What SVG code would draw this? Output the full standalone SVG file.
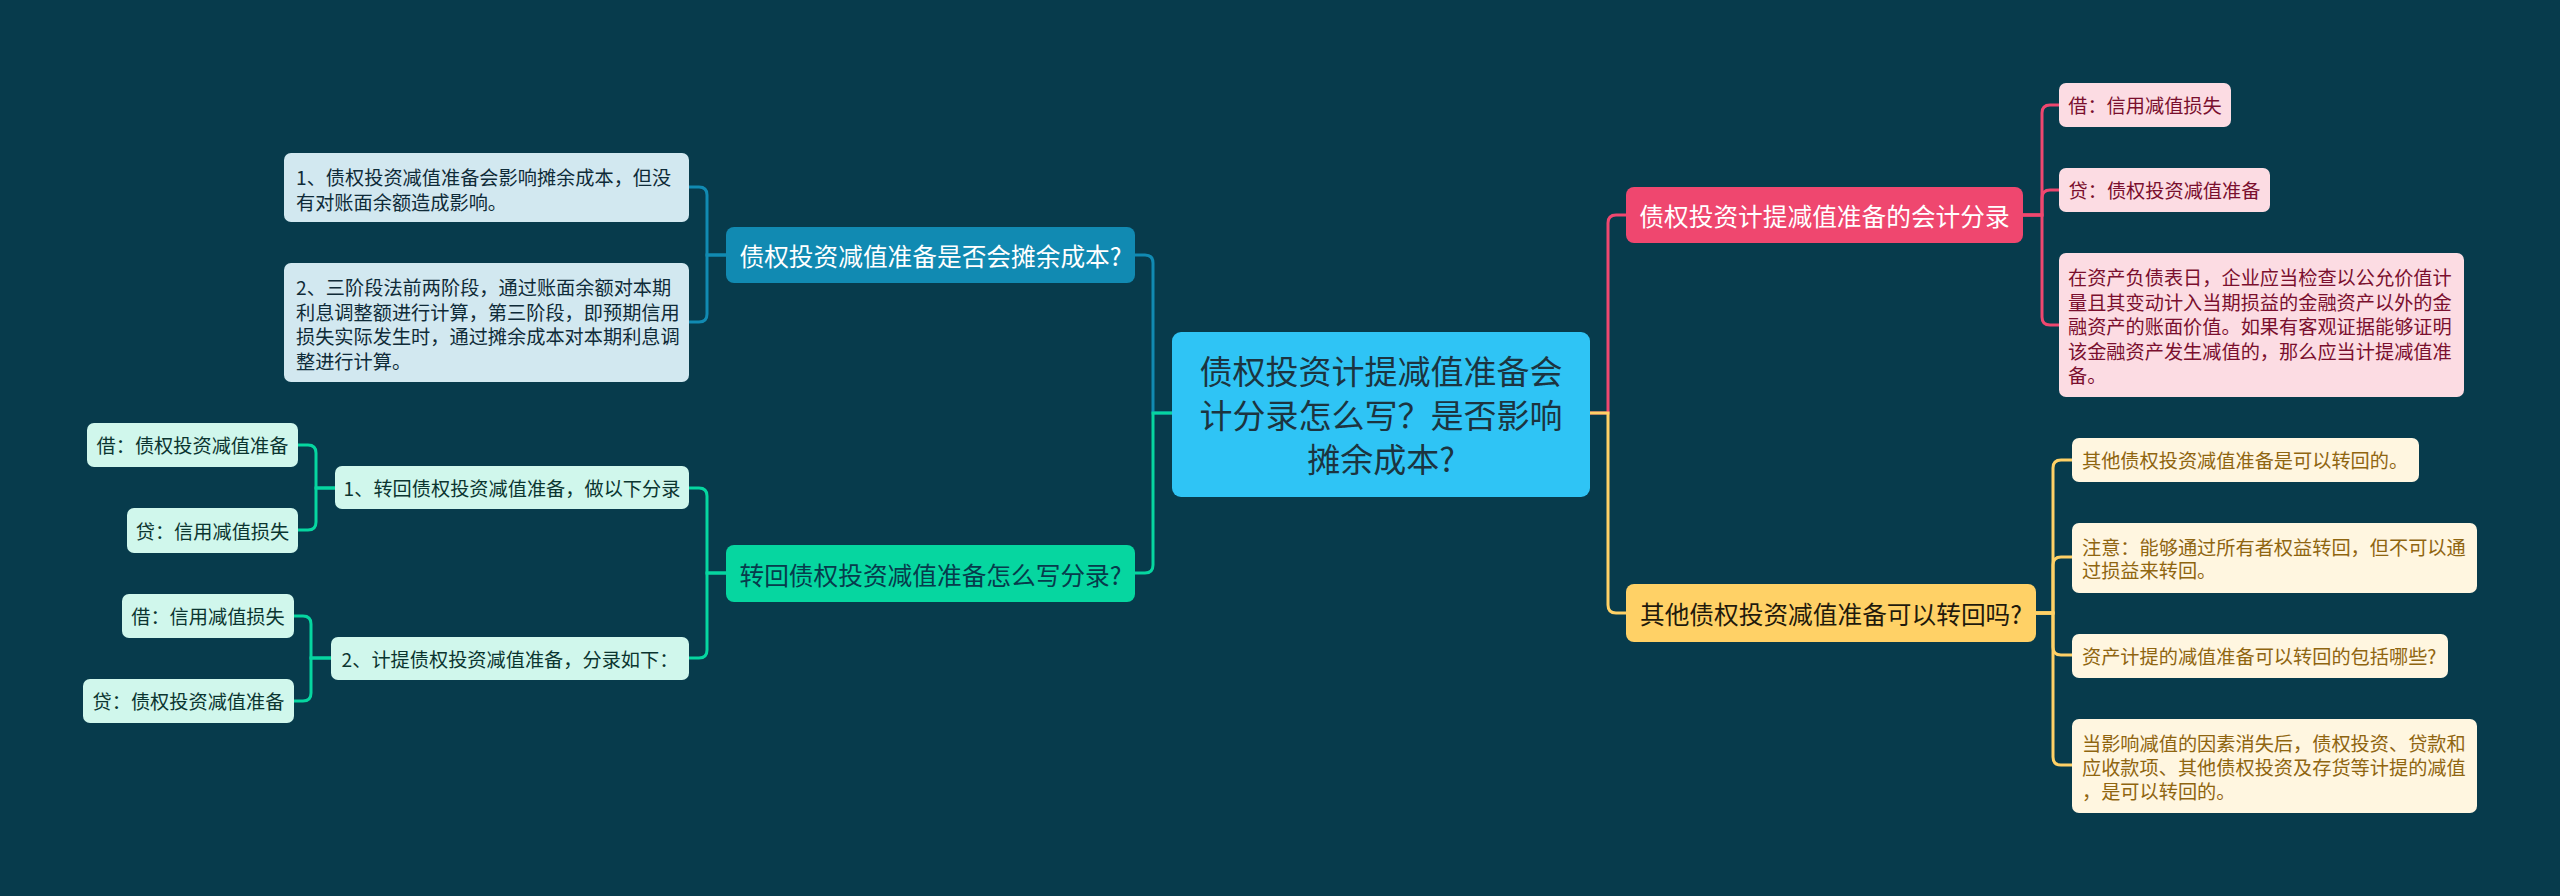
<svg xmlns="http://www.w3.org/2000/svg" width="2560" height="896" viewBox="0 0 2560 896">
<style>
text{font-family:"Noto Sans CJK SC","Noto Sans",sans-serif;dominant-baseline:central}
.lk{fill:none;stroke-width:3}
.root{fill:#2FC4F5}
.rt{font-size:33px;fill:#1c3440;text-anchor:middle}
.bt{font-size:24.7px;text-anchor:middle}
.lf{font-size:19.2px}
.c{text-anchor:middle}
.bB{fill:#118AB2}.lB{fill:#D2E8F0}.tB{fill:#0f2b38}
.bG{fill:#06D6A0}.lG{fill:#D0F7EC}.tG{fill:#0b3530}
.bR{fill:#EF476F}.lR{fill:#FCDCE3}.tR{fill:#7a0f2e}
.bY{fill:#FFD166}.lY{fill:#FFF6E0}.tY{fill:#8f6510}
</style>
<rect width="2560" height="896" fill="#073B4C"/>
<g id="connectors">
<g stroke="#118AB2" class="lk">
<path class="lk" d="M1172,413 H1153 V263 Q1153,255 1145,255 H1135"/>
<path class="lk" d="M726,255 H707 V195 Q707,187 699,187 H689"/>
<path class="lk" d="M726,255 H707 V314 Q707,322 699,322 H689"/>
</g>
<g stroke="#06D6A0" class="lk">
<path class="lk" d="M1172,413 H1153 V565 Q1153,573 1145,573 H1135"/>
<path class="lk" d="M726,573 H707 V496 Q707,488 699,488 H689"/>
<path class="lk" d="M726,573 H707 V650 Q707,658 699,658 H689"/>
<path class="lk" d="M335,488 H316 V453 Q316,445 308,445 H298"/>
<path class="lk" d="M335,488 H316 V522 Q316,530 308,530 H298"/>
<path class="lk" d="M331,658 H311 V624 Q311,616 303,616 H294"/>
<path class="lk" d="M331,658 H311 V693 Q311,701 303,701 H294"/>
</g>
<g stroke="#EF476F" class="lk">
<path class="lk" d="M1590,413 H1608 V223 Q1608,215 1616,215 H1626"/>
<path class="lk" d="M2023,215 H2042 V113 Q2042,105 2050,105 H2059"/>
<path class="lk" d="M2023,215 H2042 V198 Q2042,190 2050,190 H2059"/>
<path class="lk" d="M2023,215 H2042 V317 Q2042,325 2050,325 H2059"/>
</g>
<g stroke="#FFD166" class="lk">
<path class="lk" d="M1590,413 H1608 V605 Q1608,613 1616,613 H1626"/>
<path class="lk" d="M2036,613 H2053 V468 Q2053,460 2061,460 H2072"/>
<path class="lk" d="M2036,613 H2053 V565 Q2053,557 2061,557 H2072"/>
<path class="lk" d="M2036,613 H2053 V647 Q2053,655 2061,655 H2072"/>
<path class="lk" d="M2036,613 H2053 V757 Q2053,765 2061,765 H2072"/>
</g>
</g>
<g id="root">
<rect class="root" x="1172" y="332" width="418" height="165" rx="9"/>
<text class="rt" x="1381" y="370">债权投资计提减值准备会</text>
<text class="rt" x="1381" y="414">计分录怎么写？是否影响</text>
<text class="rt" x="1381" y="458">摊余成本?</text>
</g>
<g id="b1">
<rect class="bB" x="726" y="227" width="409" height="56" rx="8"/>
<text class="bt" x="930.5" y="255" fill="#ffffff">债权投资减值准备是否会摊余成本?</text>
</g>
<g id="a1">
<rect class="lB" x="284" y="153" width="405" height="69" rx="7"/>
<text class="lf tB" x="296" y="177">1、债权投资减值准备会影响摊余成本，但没</text>
<text class="lf tB" x="296" y="201.5">有对账面余额造成影响。</text>
</g>
<g id="a2">
<rect class="lB" x="284" y="263" width="405" height="119" rx="7"/>
<text class="lf tB" x="296" y="287">2、三阶段法前两阶段，通过账面余额对本期</text>
<text class="lf tB" x="296" y="311.5">利息调整额进行计算，第三阶段，即预期信用</text>
<text class="lf tB" x="296" y="336">损失实际发生时，通过摊余成本对本期利息调</text>
<text class="lf tB" x="296" y="360.5">整进行计算。</text>
</g>
<g id="b2">
<rect class="bG" x="726" y="545" width="409" height="57" rx="8"/>
<text class="bt" x="930.5" y="573.5" fill="#073B4C">转回债权投资减值准备怎么写分录?</text>
</g>
<g id="c1">
<rect class="lG" x="335" y="466" width="354" height="43" rx="7"/>
<text class="lf tG c" x="512" y="487.5">1、转回债权投资减值准备，做以下分录</text>
</g>
<g id="c1a">
<rect class="lG" x="87" y="423" width="211" height="44" rx="7"/>
<text class="lf tG c" x="192.5" y="445">借：债权投资减值准备</text>
</g>
<g id="c1b">
<rect class="lG" x="127" y="508" width="171" height="45" rx="7"/>
<text class="lf tG c" x="212.5" y="530.5">贷：信用减值损失</text>
</g>
<g id="c2">
<rect class="lG" x="331" y="637" width="358" height="43" rx="7"/>
<text class="lf tG c" x="510" y="658.5">2、计提债权投资减值准备，分录如下：</text>
</g>
<g id="c2a">
<rect class="lG" x="122" y="594" width="172" height="44" rx="7"/>
<text class="lf tG c" x="208" y="616">借：信用减值损失</text>
</g>
<g id="c2b">
<rect class="lG" x="83" y="679" width="211" height="44" rx="7"/>
<text class="lf tG c" x="188.5" y="701">贷：债权投资减值准备</text>
</g>
<g id="b3">
<rect class="bR" x="1626" y="187" width="397" height="56" rx="8"/>
<text class="bt" x="1824.5" y="215" fill="#ffffff">债权投资计提减值准备的会计分录</text>
</g>
<g id="r1">
<rect class="lR" x="2059" y="83" width="172" height="44" rx="7"/>
<text class="lf tR c" x="2145" y="105">借：信用减值损失</text>
</g>
<g id="r2">
<rect class="lR" x="2059" y="168" width="211" height="44" rx="7"/>
<text class="lf tR c" x="2164.5" y="190">贷：债权投资减值准备</text>
</g>
<g id="r3">
<rect class="lR" x="2059" y="253" width="405" height="144" rx="7"/>
<text class="lf tR" x="2068" y="277">在资产负债表日，企业应当检查以公允价值计</text>
<text class="lf tR" x="2068" y="301.5">量且其变动计入当期损益的金融资产以外的金</text>
<text class="lf tR" x="2068" y="326">融资产的账面价值。如果有客观证据能够证明</text>
<text class="lf tR" x="2068" y="350.5">该金融资产发生减值的，那么应当计提减值准</text>
<text class="lf tR" x="2068" y="375">备。</text>
</g>
<g id="b4">
<rect class="bY" x="1626" y="584" width="410" height="58" rx="8"/>
<text class="bt" x="1831" y="613" fill="#1f1a0c">其他债权投资减值准备可以转回吗?</text>
</g>
<g id="y1">
<rect class="lY" x="2072" y="438" width="347" height="44" rx="7"/>
<text class="lf tY" x="2082" y="460">其他债权投资减值准备是可以转回的。</text>
</g>
<g id="y2">
<rect class="lY" x="2072" y="523" width="405" height="70" rx="7"/>
<text class="lf tY" x="2082" y="546.5">注意：能够通过所有者权益转回，但不可以通</text>
<text class="lf tY" x="2082" y="570">过损益来转回。</text>
</g>
<g id="y3">
<rect class="lY" x="2072" y="634" width="376" height="44" rx="7"/>
<text class="lf tY" x="2082" y="656">资产计提的减值准备可以转回的包括哪些?</text>
</g>
<g id="y4">
<rect class="lY" x="2072" y="719" width="405" height="94" rx="7"/>
<text class="lf tY" x="2082" y="743">当影响减值的因素消失后，债权投资、贷款和</text>
<text class="lf tY" x="2082" y="767">应收款项、其他债权投资及存货等计提的减值</text>
<text class="lf tY" x="2082" y="790.5">，是可以转回的。</text>
</g>
</svg>
